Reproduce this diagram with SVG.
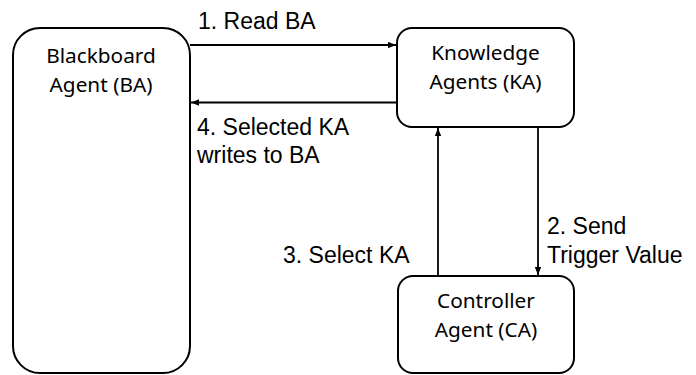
<svg xmlns="http://www.w3.org/2000/svg" width="696" height="375" viewBox="0 0 696 375">
<style>
.box{fill:#fff;stroke:#000;stroke-width:2}
.nt{font-family:"Noto Sans","Open Sans",sans-serif;font-size:20.8px;fill:#000;text-anchor:middle}
.lt{font-family:"Liberation Sans",Arial,sans-serif;font-size:23px;fill:#000}
.ln{stroke:#000;stroke-width:1.8;fill:none;marker-end:url(#ah)}
</style>
<defs>
<marker id="ah" viewBox="0 0 10 8" refX="10" refY="4" markerWidth="4.5" markerHeight="3.6" orient="auto" markerUnits="strokeWidth">
<path d="M0,0 L10,4 L0,8 z" fill="#000"/>
</marker>
</defs>
<g id="connectors">
<line class="ln" x1="190" y1="45" x2="396" y2="45"/>
<line class="ln" x1="397" y1="102.5" x2="191" y2="102.5"/>
<line class="ln" x1="538" y1="127" x2="538" y2="275"/>
<line class="ln" x1="438" y1="276" x2="438" y2="128"/>
</g>
<g id="ba">
<rect class="box" x="13" y="28" width="177" height="345" rx="27" ry="27"/>
<text class="nt" x="101" y="63">Blackboard</text>
<text class="nt" x="101" y="92">Agent (BA)</text>
</g>
<g id="ka">
<rect class="box" x="397" y="28" width="177" height="99" rx="15" ry="15"/>
<text class="nt" x="485.5" y="60">Knowledge</text>
<text class="nt" x="485.5" y="89">Agents (KA)</text>
</g>
<g id="ca">
<rect class="box" x="398" y="276" width="176" height="97" rx="15" ry="15"/>
<text class="nt" x="486" y="308">Controller</text>
<text class="nt" x="486" y="337">Agent (CA)</text>
</g>
<g id="labels">
<text class="lt" x="198" y="29">1. Read BA</text>
<text class="lt" x="197" y="135">4. Selected KA</text>
<text class="lt" x="197" y="163">writes to BA</text>
<text class="lt" x="547" y="234">2. Send</text>
<text class="lt" x="547" y="263">Trigger Value</text>
<text class="lt" x="283" y="263">3. Select KA</text>
</g>
</svg>
